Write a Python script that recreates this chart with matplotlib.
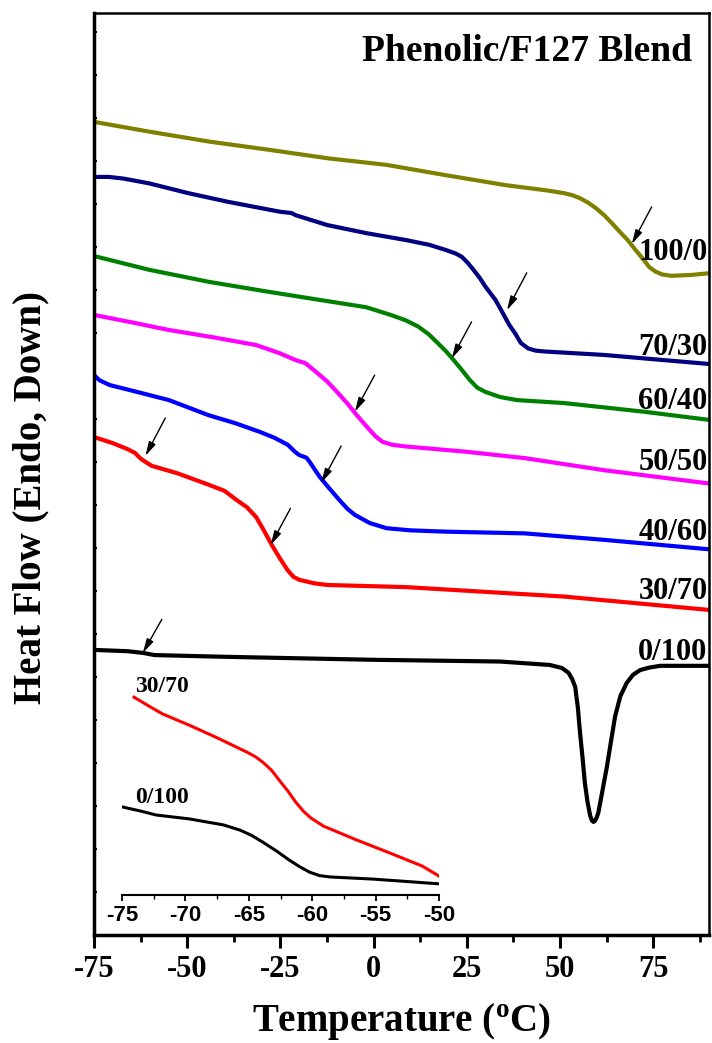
import numpy as np
import matplotlib
matplotlib.use("Agg")
import matplotlib.pyplot as plt
from matplotlib.ticker import MultipleLocator

plt.rcParams['font.family'] = ['Liberation Serif', 'DejaVu Serif']
plt.rcParams['font.weight'] = 'bold'
plt.rcParams['axes.unicode_minus'] = False
plt.rcParams['mathtext.fontset'] = 'custom'
plt.rcParams['mathtext.rm'] = 'Liberation Serif:bold'
plt.rcParams['mathtext.bf'] = 'Liberation Serif:bold'

# ---------------- data (temperature in degC, heat flow in arbitrary units) ----------------
t_100_0 = [-75, -60, -44, -28, -12, 3.5, 19.4, 35.3, 47, 51.2, 53.5, 55.5, 57.6, 59.7, 62, 64, 66, 68.2, 70.3, 72.5, 74, 75.6, 77.5, 79.9, 85.2, 90]
h_100_0 = [18.91, 18.68, 18.45, 18.26, 18.06, 17.91, 17.67, 17.44, 17.31, 17.25, 17.20, 17.13, 17.03, 16.90, 16.73, 16.55, 16.36, 16.16, 15.93, 15.70, 15.53, 15.43, 15.36, 15.33, 15.35, 15.39]

t_70_30 = [-75, -71, -67, -60.2, -49.6, -39, -25.1, -22, -20.9, -12.4, -1.8, 8.8, 15, 19.4, 22, 23.7, 25.3, 26.8, 28.5, 30, 32.7, 34.5, 36.4, 38, 39.5, 41.5, 43.5, 45.9, 61.8, 77.8, 90]
h_70_30 = [17.63, 17.63, 17.59, 17.48, 17.25, 17.05, 16.82, 16.79, 16.74, 16.51, 16.32, 16.16, 16.05, 15.93, 15.85, 15.77, 15.63, 15.47, 15.28, 15.08, 14.77, 14.49, 14.19, 13.99, 13.77, 13.64, 13.59, 13.57, 13.49, 13.37, 13.28]

t_60_40 = [-75, -60.2, -44.2, -28.3, -14.5, -2, 4.6, 8.5, 12, 14.8, 17.3, 19.5, 21.5, 23.7, 25.8, 27.8, 30, 34, 38.5, 51.2, 72.5, 90]
h_60_40 = [15.79, 15.47, 15.19, 14.96, 14.77, 14.60, 14.42, 14.30, 14.15, 13.97, 13.76, 13.57, 13.37, 13.14, 12.91, 12.73, 12.63, 12.51, 12.44, 12.37, 12.17, 11.98]

t_50_50 = [-75, -65, -54.9, -43, -31.5, -25.2, -20.9, -19.5, -18.3, -15.5, -12.4, -9.8, -7.1, -4.5, -1.8, 0.5, 2.4, 5, 8.8, 24.7, 40.6, 61.8, 90]
h_50_50 = [14.42, 14.25, 14.07, 13.90, 13.72, 13.53, 13.37, 13.33, 13.30, 13.10, 12.87, 12.63, 12.37, 12.09, 11.82, 11.60, 11.47, 11.40, 11.36, 11.24, 11.09, 10.81, 10.50]

t_40_60 = [-75, -73.5, -70.8, -63, -54.9, -44.3, -37, -30.5, -26.5, -23, -21, -19.9, -18, -17.2, -14.5, -11.8, -9.2, -7, -5, -1, 3.5, 10, 19.4, 40.6, 61.8, 90]
h_40_60 = [13.02, 12.90, 12.79, 12.62, 12.44, 12.09, 11.90, 11.70, 11.56, 11.40, 11.23, 11.16, 11.10, 11.01, 10.66, 10.38, 10.12, 9.91, 9.77, 9.58, 9.46, 9.41, 9.38, 9.34, 9.19, 8.97]

t_30_70 = [-75, -70, -66, -64, -62.5, -61.5, -59.5, -52.7, -44.2, -40, -36.8, -34, -31.5, -29.5, -27.3, -25.2, -23.1, -21.5, -19.9, -16, -12.4, 8.8, 30, 51.2, 90]
h_30_70 = [11.58, 11.44, 11.30, 11.21, 11.08, 11.02, 10.91, 10.74, 10.47, 10.33, 10.12, 9.95, 9.72, 9.42, 9.07, 8.77, 8.49, 8.33, 8.26, 8.18, 8.14, 8.09, 7.98, 7.87, 7.56]

t_0_100 = [-75, -66, -61.8, -58.8, -40, 0, 33.9, 47.3, 50.5, 52.3, 53.3, 54.1, 54.8, 55.4, 56.1, 56.7, 57.4, 58.1, 58.6, 59.0, 59.4, 59.8, 60.3, 61.4, 62.6, 63.7, 64.8, 66.2, 67.9, 69.6, 71.5, 74, 76.9, 90]
h_0_100 = [6.63, 6.60, 6.56, 6.51, 6.47, 6.40, 6.36, 6.28, 6.21, 6.10, 5.95, 5.77, 5.30, 4.70, 4.10, 3.53, 3.10, 2.78, 2.66, 2.63, 2.65, 2.72, 2.84, 3.35, 3.91, 4.50, 5.08, 5.55, 5.86, 6.05, 6.16, 6.22, 6.26, 6.26]

series_labels = ["100/0", "70/30", "60/40", "50/50", "40/60", "30/70", "0/100"]
series_colors = ["#808000", "#000080", "#008000", "#FF00FF", "#0000FF", "#FF0000", "#000000"]
label_y = [15.88, 13.67, 12.40, 10.98, 9.37, 7.98, 6.58]

# arrows: (head T, head h, tail T, tail h)
arrow_head_t = [69.3, 35.8, 21.0, -5.0, -14.0, -61.2, -27.6, -61.9]
arrow_head_h = [16.07, 14.53, 13.41, 12.17, 10.52, 11.14, 9.07, 6.56]
arrow_tail_t = [74.6, 41.1, 26.3, 0.3, -8.7, -55.9, -22.3, -56.8]
arrow_tail_h = [16.93, 15.40, 14.26, 13.02, 11.37, 12.02, 9.92, 7.34]

# inset (zoom of low-temperature region)
ti_30_70 = [-74.05, -72.8, -71.8, -69.7, -67.6, -65.2, -64.5, -63.9, -63.2, -62.6, -61.9, -61.3, -60.7, -60.1, -59.1, -57.8, -56.5, -53.9, -51.3, -50]
hi_30_70 = [4.60, 4.38, 4.21, 3.95, 3.67, 3.33, 3.22, 3.09, 2.90, 2.67, 2.41, 2.16, 1.95, 1.79, 1.60, 1.44, 1.28, 0.98, 0.67, 0.44]
ti_0_100 = [-75, -73.5, -72.3, -69.7, -67, -65.7, -64.8, -63.9, -62.8, -61.8, -61, -60.2, -59.4, -58.6, -55.2, -50]
hi_0_100 = [2.05, 1.95, 1.86, 1.77, 1.63, 1.51, 1.39, 1.23, 1.02, 0.81, 0.66, 0.53, 0.45, 0.42, 0.37, 0.26]

x_ticks = [-75, -50, -25, 0, 25, 50, 75]
inset_ticks = [-75, -70, -65, -60, -55, -50]

# ---------------- figure ----------------
W, H = 712, 1043
fig = plt.figure(figsize=(W / 100, H / 100), dpi=100)
ax = fig.add_axes([94 / W, 1 - 935 / H, (709 - 94) / W, (935 - 13) / H])

ts = [t_100_0, t_70_30, t_60_40, t_50_50, t_40_60, t_30_70, t_0_100]
hs = [h_100_0, h_70_30, h_60_40, h_50_50, h_40_60, h_30_70, h_0_100]
for t, h, c in zip(ts, hs, series_colors):
    ax.plot(t, h, color=c, lw=3.0, solid_capstyle='butt', solid_joinstyle='round')

for lab, y in zip(series_labels, label_y):
    ax.text(89.6, y, lab, ha='right', va='center', fontsize=22, fontweight='bold')

for ht, hh, tt, th in zip(arrow_head_t, arrow_head_h, arrow_tail_t, arrow_tail_h):
    ax.annotate('', xy=(ht, hh), xytext=(tt, th),
                arrowprops=dict(arrowstyle='-|>,head_length=0.85,head_width=0.22', lw=1.0, color='k',
                                shrinkA=0, shrinkB=0, mutation_scale=10))

ax.text(0.972, 0.958, "Phenolic/F127 Blend", transform=ax.transAxes, ha='right', va='center',
        fontsize=27, fontweight='bold')

ax.set_xlim(-75, 90)
ax.set_ylim(0, 922 / 43)
ax.set_xticks(x_ticks)
ax.set_xticklabels([str(v) for v in x_ticks])
ax.xaxis.set_minor_locator(MultipleLocator(12.5))
ax.set_yticks(np.arange(0, 22))
ax.set_yticklabels([])
ax.tick_params(axis='x', which='major', direction='out', length=9.5, width=2.2, labelsize=22, pad=5)
ax.tick_params(axis='x', which='minor', direction='out', length=5, width=2.0)
ax.tick_params(axis='y', which='major', direction='in', length=2.5, width=1.5)
for lbl in ax.get_xticklabels():
    lbl.set_fontweight('bold')
for side in ['left', 'bottom']:
    ax.spines[side].set_linewidth(2.5)
for side in ['top', 'right']:
    ax.spines[side].set_linewidth(1.8)

fig.text(402 / W, 1 - 1022 / H, r'Temperature ($^{\mathbf{o}}$C)', ha='center', va='center',
         fontsize=28, fontweight='bold')
fig.text(31 / W, 1 - 497 / H, 'Heat Flow (Endo, Down)', ha='center', va='center', rotation=90,
         fontsize=28, fontweight='bold')

# ---------------- inset ----------------
axi = fig.add_axes([122 / W, 1 - 895 / H, (439 - 122) / W, 215 / H])
axi.set_facecolor('none')
axi.plot(ti_30_70, hi_30_70, color='#FF0000', lw=2.2, solid_joinstyle='round')
axi.plot(ti_0_100, hi_0_100, color='#000000', lw=2.2, solid_joinstyle='round')
axi.set_xlim(-75, -50)
axi.set_ylim(0, 5)
for side in ['left', 'top', 'right']:
    axi.spines[side].set_visible(False)
axi.spines['bottom'].set_linewidth(1.5)
axi.set_yticks([])
axi.set_xticks(inset_ticks)
axi.set_xticklabels([str(v) for v in inset_ticks], fontfamily='Liberation Sans', fontweight='bold', fontsize=16)
axi.xaxis.set_minor_locator(MultipleLocator(2.5))
axi.tick_params(axis='x', which='major', direction='out', length=4, width=1.3, pad=3)
axi.tick_params(axis='x', which='minor', direction='out', length=3, width=1.0)
axi.text(-74.0, 4.84, '30/70', ha='left', va='center', fontsize=17, fontweight='bold')
axi.text(-74.0, 2.26, '0/100', ha='left', va='center', fontsize=17, fontweight='bold')

fig.savefig('out.png', dpi=100)
